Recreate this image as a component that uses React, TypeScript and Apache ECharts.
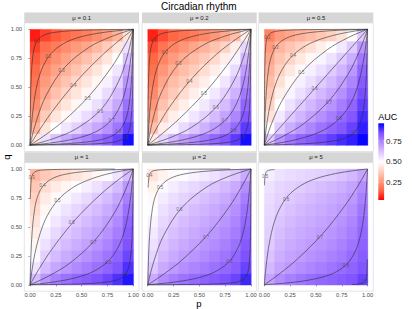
import React, { useEffect, useRef } from 'react';
import * as echarts from 'echarts';

const FONT = 'Liberation Sans, Arial, sans-serif';
const TITLE = 'Circadian rhythm';
const X_TITLE = 'p';
const Y_TITLE = 'q';
const LEGEND_TITLE = 'AUC';
const PANEL_TITLES = ['μ = 0.1', 'μ = 0.2', 'μ = 0.5', 'μ = 1', 'μ = 2', 'μ = 5'];
const AXIS_TICKS = [0, 0.25, 0.5, 0.75, 1];
const AXIS_TICK_LABELS = ['0.00', '0.25', '0.50', '0.75', '1.00'];
const LEGEND_TICKS = [0.25, 0.5, 0.75];
const LEGEND_TICK_LABELS = ['0.25', '0.50', '0.75'];
const AUC_MIN = 0.035;
const AUC_MAX = 0.965;
const COLORS = ['#FF0000', '#FF6846', '#FF9E81', '#FFCFBF', '#FFFFFF', '#DCC4FF', '#B28BFF', '#7E51FF', '#0000FF'];

// cell centres (p and q)
const CELL = [0.05, 0.15, 0.25, 0.35, 0.45, 0.55, 0.65, 0.75, 0.85, 0.95];

// AUC grids: rows = q (0.05 .. 0.95), columns = p (0.05 .. 0.95)
const AUC_MU01 = [
  [0.439, 0.559, 0.623, 0.671, 0.712, 0.747, 0.784, 0.822, 0.869, 0.947],
  [0.319, 0.439, 0.502, 0.550, 0.591, 0.632, 0.674, 0.720, 0.775, 0.869],
  [0.267, 0.376, 0.439, 0.486, 0.528, 0.568, 0.610, 0.658, 0.720, 0.822],
  [0.231, 0.328, 0.392, 0.439, 0.480, 0.520, 0.562, 0.610, 0.674, 0.784],
  [0.200, 0.290, 0.350, 0.398, 0.439, 0.479, 0.520, 0.568, 0.632, 0.747],
  [0.180, 0.260, 0.310, 0.358, 0.400, 0.439, 0.480, 0.528, 0.591, 0.712],
  [0.160, 0.229, 0.276, 0.316, 0.358, 0.398, 0.439, 0.486, 0.550, 0.671],
  [0.137, 0.195, 0.240, 0.276, 0.310, 0.350, 0.392, 0.439, 0.502, 0.623],
  [0.106, 0.165, 0.195, 0.229, 0.260, 0.290, 0.328, 0.376, 0.439, 0.559],
  [0.065, 0.106, 0.137, 0.160, 0.180, 0.200, 0.231, 0.267, 0.319, 0.439],
];
const AUC_MU02 = [
  [0.460, 0.581, 0.645, 0.695, 0.733, 0.770, 0.806, 0.838, 0.881, 0.946],
  [0.346, 0.460, 0.524, 0.572, 0.614, 0.654, 0.697, 0.741, 0.799, 0.881],
  [0.292, 0.395, 0.460, 0.509, 0.550, 0.590, 0.632, 0.681, 0.741, 0.838],
  [0.253, 0.354, 0.410, 0.460, 0.503, 0.543, 0.584, 0.632, 0.697, 0.806],
  [0.220, 0.318, 0.373, 0.417, 0.460, 0.501, 0.543, 0.590, 0.654, 0.770],
  [0.193, 0.284, 0.338, 0.379, 0.418, 0.460, 0.503, 0.550, 0.614, 0.733],
  [0.173, 0.251, 0.302, 0.343, 0.379, 0.417, 0.460, 0.509, 0.572, 0.695],
  [0.150, 0.213, 0.264, 0.302, 0.338, 0.373, 0.410, 0.460, 0.524, 0.645],
  [0.119, 0.177, 0.213, 0.251, 0.284, 0.318, 0.354, 0.395, 0.460, 0.581],
  [0.072, 0.119, 0.150, 0.173, 0.193, 0.220, 0.253, 0.292, 0.346, 0.460],
];
const AUC_MU05 = [
  [0.602, 0.715, 0.771, 0.808, 0.831, 0.853, 0.876, 0.901, 0.920, 0.957],
  [0.492, 0.602, 0.662, 0.707, 0.743, 0.779, 0.810, 0.836, 0.871, 0.920],
  [0.432, 0.544, 0.602, 0.647, 0.687, 0.723, 0.760, 0.801, 0.836, 0.901],
  [0.392, 0.500, 0.558, 0.602, 0.641, 0.679, 0.717, 0.760, 0.810, 0.876],
  [0.366, 0.461, 0.520, 0.564, 0.602, 0.640, 0.679, 0.723, 0.779, 0.853],
  [0.341, 0.424, 0.483, 0.527, 0.565, 0.602, 0.641, 0.687, 0.743, 0.831],
  [0.316, 0.390, 0.444, 0.489, 0.527, 0.564, 0.602, 0.647, 0.707, 0.808],
  [0.290, 0.360, 0.400, 0.444, 0.483, 0.520, 0.558, 0.602, 0.662, 0.771],
  [0.262, 0.321, 0.360, 0.390, 0.424, 0.461, 0.500, 0.544, 0.602, 0.715],
  [0.209, 0.262, 0.290, 0.316, 0.341, 0.366, 0.392, 0.432, 0.492, 0.602],
];
const AUC_MU1 = [
  [0.635, 0.713, 0.754, 0.785, 0.809, 0.826, 0.845, 0.866, 0.895, 0.933],
  [0.554, 0.635, 0.676, 0.707, 0.734, 0.760, 0.787, 0.813, 0.841, 0.895],
  [0.510, 0.593, 0.635, 0.666, 0.693, 0.719, 0.746, 0.777, 0.813, 0.866],
  [0.481, 0.560, 0.604, 0.635, 0.662, 0.688, 0.715, 0.746, 0.787, 0.845],
  [0.457, 0.531, 0.575, 0.608, 0.635, 0.661, 0.688, 0.719, 0.760, 0.826],
  [0.434, 0.504, 0.548, 0.581, 0.609, 0.635, 0.662, 0.693, 0.734, 0.809],
  [0.410, 0.479, 0.519, 0.552, 0.581, 0.608, 0.635, 0.666, 0.707, 0.785],
  [0.390, 0.452, 0.488, 0.519, 0.548, 0.575, 0.604, 0.635, 0.676, 0.754],
  [0.368, 0.415, 0.452, 0.479, 0.504, 0.531, 0.560, 0.593, 0.635, 0.713],
  [0.327, 0.368, 0.390, 0.410, 0.434, 0.457, 0.481, 0.510, 0.554, 0.635],
];
const AUC_MU2 = [
  [0.670, 0.728, 0.759, 0.782, 0.801, 0.815, 0.830, 0.846, 0.868, 0.909],
  [0.611, 0.670, 0.701, 0.724, 0.744, 0.763, 0.783, 0.804, 0.826, 0.868],
  [0.582, 0.639, 0.670, 0.693, 0.713, 0.733, 0.753, 0.776, 0.804, 0.846],
  [0.560, 0.615, 0.646, 0.670, 0.690, 0.710, 0.730, 0.753, 0.783, 0.830],
  [0.541, 0.595, 0.626, 0.649, 0.670, 0.689, 0.710, 0.733, 0.763, 0.815],
  [0.523, 0.577, 0.606, 0.630, 0.650, 0.670, 0.690, 0.713, 0.744, 0.801],
  [0.505, 0.559, 0.587, 0.609, 0.630, 0.649, 0.670, 0.693, 0.724, 0.782],
  [0.489, 0.537, 0.566, 0.587, 0.606, 0.626, 0.646, 0.670, 0.701, 0.759],
  [0.470, 0.509, 0.537, 0.559, 0.577, 0.595, 0.615, 0.639, 0.670, 0.728],
  [0.433, 0.470, 0.489, 0.505, 0.523, 0.541, 0.560, 0.582, 0.611, 0.670],
];
const AUC_MU5 = [
  [0.682, 0.729, 0.755, 0.775, 0.792, 0.805, 0.815, 0.826, 0.841, 0.869],
  [0.640, 0.682, 0.705, 0.725, 0.742, 0.759, 0.776, 0.796, 0.812, 0.841],
  [0.618, 0.660, 0.682, 0.699, 0.716, 0.733, 0.750, 0.769, 0.796, 0.826],
  [0.602, 0.643, 0.666, 0.682, 0.697, 0.712, 0.730, 0.750, 0.776, 0.815],
  [0.593, 0.629, 0.650, 0.668, 0.682, 0.696, 0.712, 0.733, 0.759, 0.805],
  [0.585, 0.615, 0.637, 0.654, 0.668, 0.682, 0.697, 0.716, 0.742, 0.792],
  [0.577, 0.601, 0.622, 0.639, 0.654, 0.668, 0.682, 0.699, 0.725, 0.775],
  [0.568, 0.591, 0.606, 0.622, 0.637, 0.650, 0.666, 0.682, 0.705, 0.755],
  [0.556, 0.579, 0.591, 0.601, 0.615, 0.629, 0.643, 0.660, 0.682, 0.729],
  [0.533, 0.556, 0.568, 0.577, 0.585, 0.593, 0.602, 0.618, 0.640, 0.682],
];

// contour lines [p, q]
const CONTOURS_MU01 = [
  [[0,0],[.001,.109],[.0045,.354],[.012,.599],[.027,.769],[.047,.858],[.083,.917],[.142,.953],[.231,.973],[.401,.988],[.646,.9955],[.891,.999],[1,1]],
  [[0,0],[.003,.041],[.013,.161],[.034,.343],[.072,.537],[.125,.679],[.206,.794],[.321,.875],[.463,.928],[.657,.966],[.839,.987],[.959,.997],[1,1]],
  [[0,0],[.015,.057],[.063,.214],[.154,.426],[.332,.668],[.574,.846],[.786,.937],[.943,.985],[1,1]],
  [[0,0],[.024,.036],[.1,.142],[.231,.31],[.45,.55],[.69,.769],[.858,.9],[.964,.976],[1,1]],
  [[0,0],[.039,.022],[.154,.091],[.332,.214],[.574,.426],[.786,.668],[.909,.846],[.978,.961],[1,1]],
  [[0,0],[.063,.013],[.231,.057],[.45,.142],[.69,.31],[.858,.55],[.943,.769],[.987,.937],[1,1]],
  [[0,0],[.039,.003],[.154,.013],[.332,.036],[.525,.076],[.668,.13],[.786,.214],[.87,.332],[.924,.475],[.964,.668],[.987,.846],[.997,.961],[1,1]],
  [[0,0],[.069,.002],[.25,.007],[.475,.02],[.668,.043],[.786,.076],[.87,.13],[.924,.214],[.957,.332],[.98,.525],[.993,.75],[.998,.931],[1,1]],
  [[0,0],[.125,.001],[.389,.004],[.634,.0105],[.794,.023],[.875,.041],[.928,.072],[.959,.125],[.977,.206],[.99,.366],[.996,.611],[.999,.875],[1,1]],
];
const CONTOURS_MU02 = [
  [[0,0],[.001,.125],[.004,.389],[.0105,.634],[.023,.794],[.041,.875],[.072,.928],[.125,.959],[.206,.977],[.366,.99],[.611,.996],[.875,.999],[1,1]],
  [[0,0],[.003,.047],[.011,.182],[.029,.378],[.063,.574],[.109,.711],[.182,.818],[.289,.891],[.426,.937],[.622,.971],[.818,.989],[.953,.998],[1,1]],
  [[0,0],[.013,.066],[.055,.24],[.136,.463],[.299,.701],[.537,.864],[.76,.945],[.934,.987],[1,1]],
  [[0,0],[.022,.039],[.091,.154],[.214,.332],[.426,.574],[.668,.786],[.846,.909],[.961,.978],[1,1]],
  [[0,0],[.036,.024],[.142,.1],[.31,.231],[.55,.45],[.769,.69],[.9,.858],[.976,.964],[1,1]],
  [[0,0],[.057,.015],[.214,.063],[.426,.154],[.668,.332],[.846,.574],[.937,.786],[.985,.943],[1,1]],
  [[0,0],[.036,.003],[.142,.015],[.31,.039],[.5,.083],[.646,.142],[.769,.231],[.858,.354],[.917,.5],[.961,.69],[.985,.858],[.997,.964],[1,1]],
  [[0,0],[.06,.002],[.223,.009],[.438,.023],[.634,.05],[.76,.087],[.852,.148],[.913,.24],[.95,.366],[.977,.562],[.991,.777],[.998,.94],[1,1]],
  [[0,0],[.119,.001],[.378,.004],[.622,.011],[.786,.024],[.87,.043],[.924,.076],[.957,.13],[.976,.214],[.989,.378],[.996,.622],[.999,.881],[1,1]],
];
const CONTOURS_MU05 = [
  [[0,0],[.0005,.19],[.0024,.512],[.0064,.741],[.014,.864],[.025,.921],[.045,.955],[.079,.975],[.136,.986],[.259,.994],[.488,.998],[.81,.9995],[1,1]],
  [[0,0],[.002,.069],[.007,.25],[.02,.475],[.043,.668],[.076,.786],[.13,.87],[.214,.924],[.332,.957],[.525,.98],[.75,.993],[.931,.998],[1,1]],
  [[0,0],[.004,.032],[.016,.13],[.043,.289],[.091,.475],[.154,.622],[.25,.75],[.378,.846],[.525,.909],[.711,.957],[.87,.984],[.968,.996],[1,1]],
  [[0,0],[.017,.05],[.072,.19],[.175,.389],[.366,.634],[.611,.825],[.81,.928],[.95,.983],[1,1]],
  [[0,0],[.5,.5],[1,1]],
  [[0,0],[.047,.018],[.182,.076],[.378,.182],[.622,.378],[.818,.622],[.924,.818],[.982,.953],[1,1]],
  [[0,0],[.032,.004],[.13,.016],[.289,.043],[.475,.091],[.622,.154],[.75,.25],[.846,.378],[.909,.525],[.957,.711],[.984,.87],[.996,.968],[1,1]],
  [[0,0],[.076,.0015],[.269,.007],[.5,.018],[.69,.039],[.802,.069],[.881,.119],[.931,.198],[.961,.31],[.982,.5],[.993,.731],[.9985,.924],[1,1]],
];
const CONTOURS_MU1 = [
  [[.003,.74],[.0047,.794],[.0105,.896],[.019,.94],[.034,.966],[.06,.981],[.104,.99],[.206,.995],[.413,.998],[.76,.9996],[.82,.9997]],
  [[0,0],[.002,.066],[.008,.24],[.021,.463],[.045,.657],[.079,.777],[.136,.864],[.223,.921],[.343,.955],[.537,.979],[.76,.992],[.934,.998],[1,1]],
  [[0,0],[.004,.029],[.018,.119],[.047,.269],[.1,.45],[.168,.599],[.269,.731],[.401,.832],[.55,.9],[.731,.953],[.881,.982],[.971,.996],[1,1]],
  [[0,0],[.023,.037],[.095,.148],[.223,.321],[.438,.562],[.679,.777],[.852,.905],[.963,.977],[1,1]],
  [[0,0],[.047,.018],[.182,.076],[.378,.182],[.622,.378],[.818,.622],[.924,.818],[.982,.953],[1,1]],
  [[0,0],[.037,.003],[.148,.014],[.321,.037],[.512,.079],[.657,.136],[.777,.223],[.864,.343],[.921,.488],[.963,.679],[.986,.852],[.997,.963],[1,1]],
  [[0,0],[.109,.001],[.354,.0045],[.599,.012],[.769,.027],[.858,.047],[.917,.083],[.953,.142],[.973,.231],[.988,.401],[.9955,.646],[.999,.891],[1,1]],
];
const CONTOURS_MU2 = [
  [[.0045,.84],[.009,.909],[.016,.948],[.029,.971],[.052,.984],[.091,.991],[.182,.996],[.378,.9985],[.731,.9997],[.8,.9998]],
  [[0,0],[.002,.066],[.008,.24],[.021,.463],[.045,.657],[.079,.777],[.136,.864],[.223,.921],[.343,.955],[.537,.979],[.76,.992],[.934,.998],[1,1]],
  [[0,0],[.015,.057],[.063,.214],[.154,.426],[.332,.668],[.574,.846],[.786,.937],[.943,.985],[1,1]],
  [[0,0],[.039,.022],[.154,.091],[.332,.214],[.574,.426],[.786,.668],[.909,.846],[.978,.961],[1,1]],
  [[0,0],[.041,.003],[.161,.013],[.343,.034],[.537,.072],[.679,.125],[.794,.206],[.875,.321],[.928,.463],[.966,.657],[.987,.839],[.997,.959],[1,1]],
  [[0,0],[.154,.0007],[.45,.003],[.69,.008],[.832,.018],[.9,.032],[.943,.057],[.968,.1],[.982,.168],[.992,.31],[.997,.55],[.9993,.846],[1,1]],
];
const CONTOURS_MU5 = [
  [[.0015,.86],[.003,.9],[.007,.931],[.012,.961],[.022,.978],[.039,.988],[.069,.993],[.1,.995]],
  [[0,0],[.003,.036],[.015,.142],[.039,.31],[.083,.5],[.142,.646],[.231,.769],[.354,.858],[.5,.917],[.69,.961],[.858,.985],[.964,.997],[1,1]],
  [[0,0],[.037,.023],[.148,.095],[.321,.223],[.562,.438],[.777,.679],[.905,.852],[.977,.963],[1,1]],
  [[0,0],[.045,.003],[.175,.012],[.366,.031],[.562,.066],[.701,.114],[.81,.19],[.886,.299],[.934,.438],[.969,.634],[.988,.825],[.997,.955],[1,1]],
  [[.85,.002],[.9,.005],[.917,.008],[.953,.015],[.973,.027],[.985,.047],[.992,.083],[.996,.168],[.997,.22]],
];

// contour labels [p, q, text]
const LABELS_MU01 = [[.065,.893,'0.1'],[.177,.769,'0.2'],[.307,.642,'0.3'],[.419,.519,'0.4'],[.558,.404,'0.5'],[.678,.294,'0.6'],[.79,.216,'0.7'],[.855,.121,'0.8'],[.92,.066,'0.9']];
const LABELS_MU02 = [[.054,.902,'0.1'],[.167,.801,'0.2'],[.296,.706,'0.3'],[.403,.547,'0.4'],[.545,.447,'0.5'],[.661,.326,'0.6'],[.748,.216,'0.7'],[.829,.13,'0.8'],[.91,.066,'0.9']];
const LABELS_MU05 = [[.029,.931,'0.2'],[.106,.844,'0.3'],[.278,.775,'0.4'],[.358,.631,'0.5'],[.487,.493,'0.6'],[.626,.372,'0.7'],[.723,.227,'0.8'],[.874,.112,'0.9']];
const LABELS_MU1 = [[.016,.93,'0.3'],[.123,.856,'0.4'],[.264,.724,'0.5'],[.404,.537,'0.6'],[.613,.365,'0.7'],[.758,.196,'0.8'],[.92,.086,'0.9']];
const LABELS_MU2 = [[.016,.948,'0.4'],[.119,.842,'0.5'],[.306,.647,'0.6'],[.565,.411,'0.7'],[.79,.2,'0.8'],[.925,.043,'0.9']];
const LABELS_MU5 = [[.007,.937,'0.5'],[.21,.741,'0.6'],[.539,.411,'0.7'],[.79,.166,'0.8'],[.974,.028,'0.9']];

const PANEL_AUC = [AUC_MU01, AUC_MU02, AUC_MU05, AUC_MU1, AUC_MU2, AUC_MU5];
const PANEL_CONTOURS = [CONTOURS_MU01, CONTOURS_MU02, CONTOURS_MU05, CONTOURS_MU1, CONTOURS_MU2, CONTOURS_MU5];
const PANEL_LABELS = [LABELS_MU01, LABELS_MU02, LABELS_MU05, LABELS_MU1, LABELS_MU2, LABELS_MU5];

// layout
const COL_LEFT = [24.3, 142.0, 258.6];
const ROW_TOP = [22.9, 162.6];
const PANEL_W = 114.7;
const PANEL_H = 128.6;
const STRIP_H = 10.4;
const AX_MIN = -0.0555;
const AX_MAX = 1.0555;
const HALF = 0.05;

export default function App() {
  const ref = useRef<HTMLDivElement>(null);
  useEffect(() => {
    if (!ref.current) return;
    const chart = echarts.init(ref.current, undefined, { renderer: 'svg' });
    const grids: any[] = [];
    const xAxes: any[] = [];
    const yAxes: any[] = [];
    const series: any[] = [];
    const tileIdx: number[] = [];
    const graphics: any[] = [];

    PANEL_TITLES.forEach((title, i) => {
      const r = Math.floor(i / 3);
      const c = i % 3;
      grids.push({ left: COL_LEFT[c], top: ROW_TOP[r], width: PANEL_W, height: PANEL_H, show: true, borderColor: '#D2D2D2', borderWidth: 0.6, backgroundColor: '#FFFFFF', containLabel: false });
      xAxes.push({
        type: 'value', gridIndex: i, min: AX_MIN, max: AX_MAX,
        axisLine: { show: false }, splitLine: { show: false },
        axisTick: { show: r === 1, length: 1.6, customValues: AXIS_TICKS, lineStyle: { color: '#333333', width: 0.5 } },
        axisLabel: { show: r === 1, customValues: AXIS_TICKS, formatter: (v: number) => AXIS_TICK_LABELS[AXIS_TICKS.indexOf(v)] ?? v.toFixed(2), fontSize: 5.8, color: '#4D4D4D', margin: 1.2, fontFamily: FONT },
      });
      yAxes.push({
        type: 'value', gridIndex: i, min: AX_MIN, max: AX_MAX,
        axisLine: { show: false }, splitLine: { show: false },
        axisTick: { show: c === 0, length: 1.6, customValues: AXIS_TICKS, lineStyle: { color: '#333333', width: 0.5 } },
        axisLabel: { show: c === 0, customValues: AXIS_TICKS, formatter: (v: number) => AXIS_TICK_LABELS[AXIS_TICKS.indexOf(v)] ?? v.toFixed(2), fontSize: 5.8, color: '#4D4D4D', margin: 2.2, fontFamily: FONT },
      });
      // tiles
      const auc = PANEL_AUC[i];
      const tiles: number[][] = [];
      auc.forEach((row, j) => row.forEach((v, k) => tiles.push([CELL[k], CELL[j], v])));
      tileIdx.push(series.length);
      series.push({
        type: 'custom', coordinateSystem: 'cartesian2d', xAxisIndex: i, yAxisIndex: i, silent: true, z: 1,
        encode: { x: 0, y: 1 }, data: tiles,
        renderItem: (params: any, api: any) => {
          const p = api.value(0);
          const q = api.value(1);
          const a = api.coord([p - HALF, q + HALF]);
          const b = api.coord([p + HALF, q - HALF]);
          const fill = api.visual('color');
          return { type: 'rect', shape: { x: a[0], y: a[1], width: b[0] - a[0] + 0.3, height: b[1] - a[1] + 0.3 }, style: { fill, stroke: fill, lineWidth: 0.3 } };
        },
      });
      // contours
      PANEL_CONTOURS[i].forEach((pts) => {
        series.push({
          type: 'line', xAxisIndex: i, yAxisIndex: i, data: pts, showSymbol: false, symbol: 'none', smooth: 0.35, silent: true, z: 3,
          lineStyle: { color: '#2E2E2E', width: 0.6 },
        });
      });
      // contour labels
      series.push({
        type: 'scatter', xAxisIndex: i, yAxisIndex: i, symbolSize: 0, silent: true, z: 4,
        data: PANEL_LABELS[i].map((d) => ({ value: [d[0], d[1]], name: d[2] })),
        label: { show: true, position: 'inside', formatter: '{b}', fontSize: 4.5, color: '#4A4A4A', fontFamily: FONT },
      });
      // strip
      graphics.push({ type: 'rect', shape: { x: COL_LEFT[c], y: ROW_TOP[r] - STRIP_H, width: PANEL_W, height: STRIP_H }, style: { fill: '#D6D6D6' }, silent: true });
      graphics.push({ type: 'text', x: COL_LEFT[c] + PANEL_W / 2, y: ROW_TOP[r] - STRIP_H / 2, style: { text: title, fontSize: 6, fill: '#1A1A1A', fontFamily: FONT, textAlign: 'center', textVerticalAlign: 'middle' }, silent: true });
    });

    // titles
    const plotCenterX = (COL_LEFT[0] + COL_LEFT[2] + PANEL_W) / 2;
    graphics.push({ type: 'text', x: plotCenterX, y: 6.2, style: { text: TITLE, fontSize: 10, fill: '#000000', fontFamily: FONT, textAlign: 'center', textVerticalAlign: 'middle' } });
    graphics.push({ type: 'text', x: plotCenterX, y: 303.5, style: { text: X_TITLE, fontSize: 9.5, fill: '#000000', fontFamily: FONT, textAlign: 'center', textVerticalAlign: 'middle' } });
    graphics.push({ type: 'text', x: 6, y: (ROW_TOP[0] + ROW_TOP[1] + PANEL_H) / 2, rotation: Math.PI / 2, style: { text: Y_TITLE, fontSize: 9.5, fill: '#000000', fontFamily: FONT, textAlign: 'center', textVerticalAlign: 'middle' } });

    // legend colour bar
    const barX = 378.3, barY = 123.3, barW = 5.8, barH = 76.7;
    graphics.push({
      type: 'rect', shape: { x: barX, y: barY, width: barW, height: barH },
      style: { fill: new echarts.graphic.LinearGradient(0, 0, 0, 1, COLORS.slice().reverse().map((col, k) => ({ offset: k / (COLORS.length - 1), color: col }))) },
    });
    graphics.push({ type: 'text', x: barX, y: 116.5, style: { text: LEGEND_TITLE, fontSize: 9, fill: '#000000', fontFamily: FONT, textAlign: 'left', textVerticalAlign: 'middle' } });
    LEGEND_TICKS.forEach((v, k) => {
      const y = barY + ((AUC_MAX - v) / (AUC_MAX - AUC_MIN)) * barH;
      graphics.push({ type: 'line', shape: { x1: barX, y1: y, x2: barX + 1.2, y2: y }, style: { stroke: '#FFFFFF', lineWidth: 0.5 } });
      graphics.push({ type: 'line', shape: { x1: barX + barW - 1.2, y1: y, x2: barX + barW, y2: y }, style: { stroke: '#FFFFFF', lineWidth: 0.5 } });
      graphics.push({ type: 'text', x: barX + barW + 2, y, style: { text: LEGEND_TICK_LABELS[k], fontSize: 8, fill: '#1A1A1A', fontFamily: FONT, textAlign: 'left', textVerticalAlign: 'middle' } });
    });

    chart.setOption({
      animation: false,
      backgroundColor: '#FFFFFF',
      grid: grids,
      xAxis: xAxes,
      yAxis: yAxes,
      visualMap: { type: 'continuous', show: false, min: AUC_MIN, max: AUC_MAX, dimension: 2, seriesIndex: tileIdx, inRange: { color: COLORS } },
      series,
      graphic: graphics,
    });
    return () => chart.dispose();
  }, []);
  return <div ref={ref} style={{ position: 'fixed', left: 0, top: 0, width: 412, height: 309 }} />;
}
